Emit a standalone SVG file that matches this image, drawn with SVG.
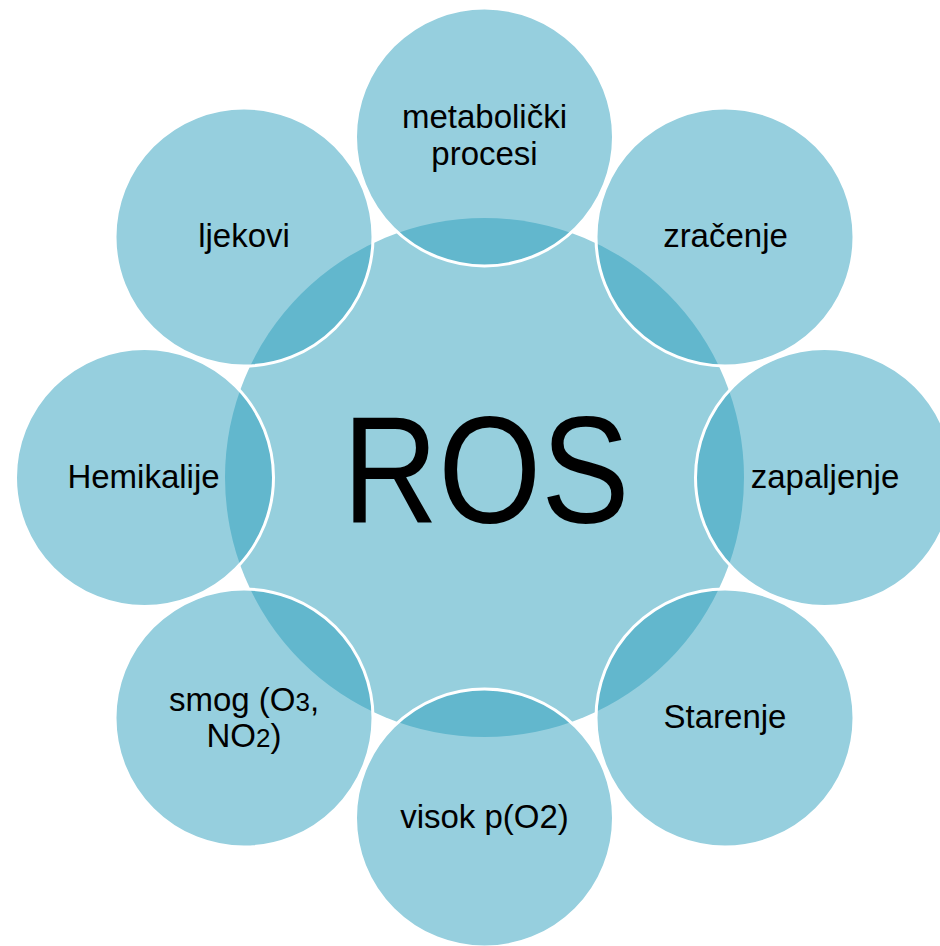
<svg xmlns="http://www.w3.org/2000/svg" width="940" height="946" viewBox="0 0 940 946">
<style>
.bg{fill:#ffffff}
.core{fill:#96cfdd}
.sat{fill:rgb(45,159,189);fill-opacity:0.5;stroke:#ffffff;stroke-width:3}
.lbl{font-family:"Liberation Sans",Arial,sans-serif;font-size:33px;fill:#000000;text-anchor:middle}
.big{font-family:"Liberation Sans",Arial,sans-serif;font-size:152px;fill:#000000;text-anchor:middle}
.sub{font-size:26px}
</style>
<rect class="bg" x="0" y="0" width="940" height="946"/>
<g id="ros">
  <circle class="core" cx="484.5" cy="477.5" r="259.5"/>
  <text class="big" x="486" y="523" textLength="287" lengthAdjust="spacingAndGlyphs">ROS</text>
</g>
<g id="connectors"/>
<g id="metabolicki">
  <circle class="sat" cx="484.5" cy="137" r="129"/>
  <text class="lbl" x="484.5" y="128">metabolički</text>
  <text class="lbl" x="484.5" y="165">procesi</text>
</g>
<g id="zracenje">
  <circle class="sat" cx="725" cy="237" r="129"/>
  <text class="lbl" x="725.5" y="247">zračenje</text>
</g>
<g id="zapaljenje">
  <circle class="sat" cx="824.5" cy="477.5" r="129"/>
  <text class="lbl" x="825" y="488">zapaljenje</text>
</g>
<g id="starenje">
  <circle class="sat" cx="725" cy="718" r="129"/>
  <text class="lbl" x="725" y="728">Starenje</text>
</g>
<g id="visok">
  <circle class="sat" cx="484.5" cy="818" r="129"/>
  <text class="lbl" x="484.5" y="828">visok p(O2)</text>
</g>
<g id="smog">
  <circle class="sat" cx="244" cy="718" r="129"/>
  <text class="lbl" x="244" y="711">smog (O<tspan class="sub">3</tspan>,</text>
  <text class="lbl" x="244" y="747">NO<tspan class="sub">2</tspan>)</text>
</g>
<g id="hemikalije">
  <circle class="sat" cx="144.5" cy="477.5" r="129"/>
  <text class="lbl" x="143.5" y="488">Hemikalije</text>
</g>
<g id="ljekovi">
  <circle class="sat" cx="244" cy="237" r="129"/>
  <text class="lbl" x="244" y="247">ljekovi</text>
</g>
</svg>
